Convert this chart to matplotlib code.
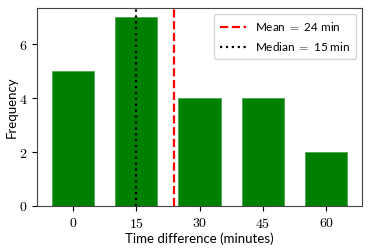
import matplotlib
matplotlib.use("Agg")
import matplotlib.pyplot as plt

plt.rcParams['mathtext.fontset'] = 'cm'
plt.rcParams['font.family'] = ['Lato', 'DejaVu Sans']

minutes = [0, 15, 30, 45, 60]
counts = [5, 7, 4, 4, 2]
mean_val = 24
median_val = 15

fig = plt.figure(figsize=(3.74, 2.49), dpi=100)
ax = fig.add_axes([0.099, 0.173, 0.869, 0.795])

ax.bar(minutes, counts, width=10, color='green', edgecolor='#4ca64c', linewidth=0.6)
ax.axvline(mean_val, color='red', linestyle='--', linewidth=1.6, label=r'Mean $=$ %d min' % mean_val)
ax.axvline(median_val, color='black', linestyle=':', linewidth=1.6, label=r'Median $=$ %d min' % median_val)

ax.set_xticks(minutes)
ax.set_xticklabels(['$%d$' % m for m in minutes], fontsize=10)
ax.set_yticks([0, 2, 4, 6])
ax.set_yticklabels(['$%d$' % v for v in [0, 2, 4, 6]], fontsize=10)
ax.set_xlabel('Time difference (minutes)', fontsize=9.5, labelpad=2)
ax.set_ylabel('Frequency', fontsize=9.5, labelpad=1)
for s in ax.spines.values():
    s.set_color('#444444')
ax.legend(loc='upper right', fontsize=8.5, borderpad=0.5, labelspacing=0.6, handlelength=2.2)

fig.savefig('out.png', dpi=100)
